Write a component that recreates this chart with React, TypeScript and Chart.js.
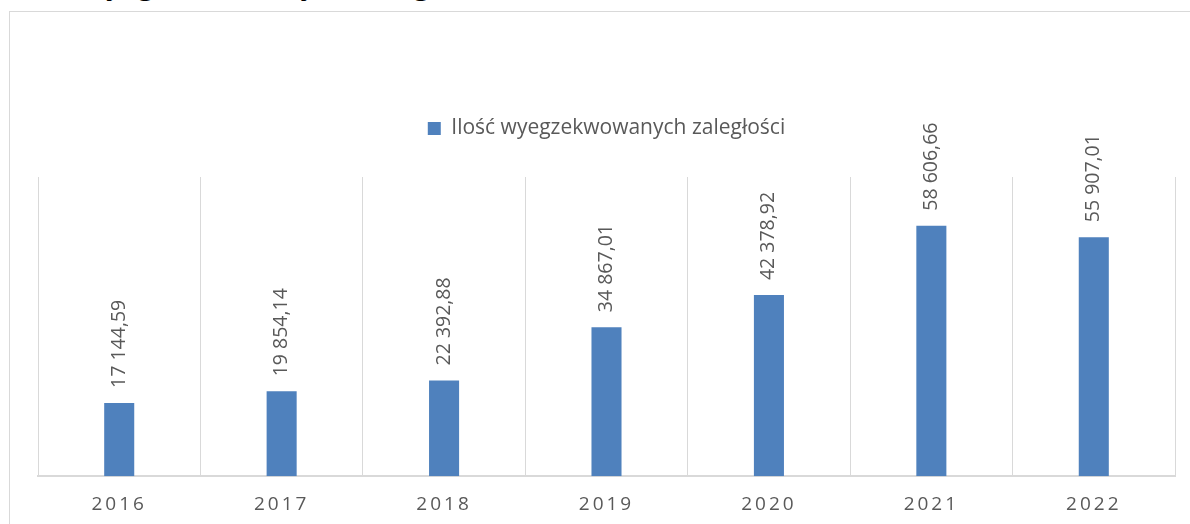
import React, { useEffect, useRef } from "react";
import { Chart, registerables } from "chart.js";

Chart.register(...registerables);

const years: string[] = ["2016", "2017", "2018", "2019", "2020", "2021", "2022"];
const values: number[] = [17144.59, 19854.14, 22392.88, 34867.01, 42378.92, 58606.66, 55907.01];
const seriesLabel = "Ilość wyegzekwowanych zaległości";
const titleText = "Ilość wyegzekwowanych zaległości";

const FONT = "'Open Sans', 'Noto Sans', sans-serif";
const TEXT = "#595959";
const BAR = "#4F81BD";
const GRID = "#d9d9d9";

function fmt(v: number): string {
  const [i, d] = v.toFixed(2).split(".");
  const g = i.replace(/\B(?=(\d{3})+(?!\d))/g, " ");
  return g + "," + d;
}

const legendSpacer = {
  id: "legendSpacer",
  beforeInit(chart: any) {
    const legend = chart.legend;
    if (!legend) return;
    const orig = legend.fit;
    legend.fit = function () {
      orig.call(this);
      this.height += 28;
    };
  },
};

const labelsAndSpacing = {
  id: "labelsAndSpacing",
  afterDatasetsDraw(chart: any) {
    const ctx = chart.ctx;
    const meta = chart.getDatasetMeta(0);
    ctx.save();
    ctx.font = `19.5px ${FONT}`;
    ctx.fillStyle = TEXT;
    ctx.textAlign = "left";
    ctx.textBaseline = "middle";
    meta.data.forEach((bar: any, i: number) => {
      ctx.save();
      ctx.translate(bar.x, bar.y - 15);
      ctx.rotate(-Math.PI / 2);
      ctx.fillText(fmt(values[i]), 0, 0);
      ctx.restore();
    });
    ctx.restore();
    (ctx as any).letterSpacing = "3px";
  },
  afterDraw(chart: any) {
    (chart.ctx as any).letterSpacing = "0px";
  },
};

export default function App() {
  const ref = useRef<HTMLCanvasElement | null>(null);
  useEffect(() => {
    if (!ref.current) return;
    const chart = new Chart(ref.current, {
      type: "bar",
      data: {
        labels: years,
        datasets: [
          {
            label: seriesLabel,
            data: values,
            backgroundColor: BAR,
            borderWidth: 0,
            categoryPercentage: 1,
            barPercentage: 0.185,
          },
        ],
      },
      options: {
        animation: false,
        responsive: false,
        maintainAspectRatio: false,
        layout: { padding: { left: 28, right: 15, top: 96, bottom: 7 } },
        plugins: {
          tooltip: { enabled: false },
          title: { display: false },
          legend: {
            display: true,
            position: "top",
            labels: {
              boxWidth: 13,
              boxHeight: 13,
              padding: 10,
              color: TEXT,
              font: { family: FONT, size: 21 },
            },
          },
        },
        scales: {
          x: {
            grid: { display: true, color: GRID, lineWidth: 1, drawTicks: false, offset: true },
            border: { display: true, color: GRID, width: 2 },
            ticks: { color: TEXT, font: { family: FONT, size: 19 }, padding: 17, z: 1 },
          },
          y: {
            display: false,
            min: 0,
            max: 70000,
          },
        },
      },
      plugins: [legendSpacer, labelsAndSpacing],
    });
    return () => chart.destroy();
  }, []);

  return (
    <div style={{ position: "fixed", left: 0, top: 0, width: 1190, height: 524, overflow: "hidden", background: "#fff" }}>
      <div
        style={{
          position: "absolute",
          left: 8,
          top: -33,
          fontFamily: "'Liberation Serif', 'Times New Roman', serif",
          fontWeight: "bold",
          fontSize: 33,
          lineHeight: "33px",
          whiteSpace: "nowrap",
          color: "#000",
        }}
      >
        {titleText}
      </div>
      <div
        style={{
          position: "absolute",
          left: 9,
          top: 11,
          width: 1200,
          height: 600,
          borderLeft: `1px solid ${GRID}`,
          borderTop: `1px solid ${GRID}`,
        }}
      />
      <canvas ref={ref} width={1180} height={528} style={{ position: "absolute", left: 10, top: 12, width: 1180, height: 528 }} />
    </div>
  );
}
